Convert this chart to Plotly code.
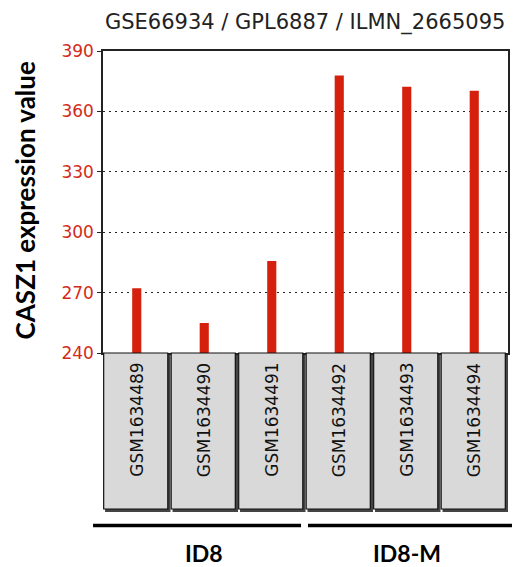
import plotly.graph_objects as go

samples = ["GSM1634489", "GSM1634490", "GSM1634491", "GSM1634492", "GSM1634493", "GSM1634494"]
values = [272.1, 254.9, 285.7, 377.8, 372.3, 370.3]
groups = ["ID8", "ID8", "ID8", "ID8-M", "ID8-M", "ID8-M"]
y_ticks = [240, 270, 300, 330, 360, 390]
title_text = "GSE66934 / GPL6887 / ILMN_2665095"
y_title = "CASZ1 expression value"

W, H = 514, 567
L, R, T, B = 103, 4, 51, 214
plot_w = W - L - R
plot_h = H - T - B

def px_to_py(py):
    return (H - B - py) / plot_h

def px_to_px(px):
    return (px - L) / plot_w

fig = go.Figure()
fig.add_trace(go.Bar(
    x=list(range(len(samples))), y=values,
    width=0.135, marker=dict(color="#d4200c", line=dict(width=0)),
))

shapes = []
annotations = []
for i, s in enumerate(samples):
    shapes.append(dict(type="rect", xref="x", yref="paper",
                       x0=i - 0.47, x1=i + 0.50, y0=px_to_py(512), y1=px_to_py(355),
                       fillcolor="#444444", line=dict(width=0), layer="above"))
    shapes.append(dict(type="rect", xref="x", yref="paper",
                       x0=i - 0.49, x1=i + 0.46, y0=px_to_py(509), y1=px_to_py(353),
                       fillcolor="#d9d9d9", line=dict(color="#111111", width=1.2), layer="above"))
    annotations.append(dict(x=i, xref="x", y=px_to_py(361), yref="paper",
                            text=s, textangle=-90, showarrow=False,
                            xanchor="center", yanchor="top",
                            font=dict(family="DejaVu Sans", size=17, color="#111111")))

grp_names = []
for g in groups:
    if g not in grp_names:
        grp_names.append(g)
line_spans = {"ID8": (93, 302), "ID8-M": (309, 514)}
for g in grp_names:
    idx = [i for i, gg in enumerate(groups) if gg == g]
    x0p, x1p = line_spans[g]
    shapes.append(dict(type="line", xref="paper", yref="paper",
                       x0=px_to_px(x0p), x1=px_to_px(x1p),
                       y0=px_to_py(525.5), y1=px_to_py(525.5),
                       line=dict(color="black", width=3.5)))
    annotations.append(dict(x=(idx[0] + idx[-1]) / 2, xref="x", y=px_to_py(553), yref="paper",
                            text="<b>%s</b>" % g, showarrow=False,
                            xanchor="center", yanchor="middle",
                            font=dict(family="Lato, Liberation Sans", size=23, color="black")))

annotations.append(dict(x=px_to_px(306), xref="paper", y=px_to_py(22), yref="paper",
                        text=title_text, showarrow=False, xanchor="center", yanchor="middle",
                        font=dict(family="DejaVu Sans", size=21, color="#222222")))
annotations.append(dict(x=px_to_px(25), xref="paper", y=px_to_py(200), yref="paper",
                        text="<b>%s</b>" % y_title, showarrow=False, textangle=-90,
                        xanchor="center", yanchor="middle",
                        font=dict(family="Lato, Liberation Sans", size=26, color="black")))

fig.update_layout(
    width=W, height=H,
    margin=dict(l=L, r=R, t=T, b=B, pad=0),
    paper_bgcolor="white", plot_bgcolor="white",
    showlegend=False,
    shapes=shapes, annotations=annotations,
    xaxis=dict(range=[-0.5, 5.5], showticklabels=False, ticks="", showgrid=False,
               zeroline=False, showline=True, linecolor="#222222", linewidth=1.5, mirror=True),
    yaxis=dict(range=[240, 390], tickvals=y_ticks, ticks="outside", ticklen=4,
               tickcolor="#222222", showgrid=True, gridcolor="#222222", griddash="2px,4px",
               gridwidth=1, zeroline=False, showline=True, linecolor="#222222",
               linewidth=1.5, mirror=True,
               tickfont=dict(family="DejaVu Sans", size=17, color="#d42a1a")),
)
fig.write_html("out.html")
